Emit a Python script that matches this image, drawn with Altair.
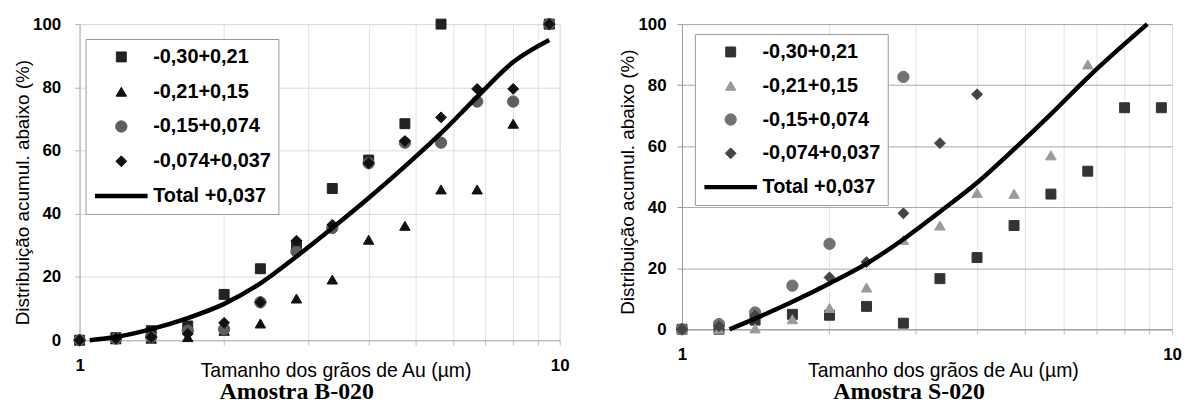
import altair as alt
import pandas as pd

# ---------------- data ----------------
sizes = [1.0, 1.19, 1.41, 1.68, 2.0, 2.38, 2.83, 3.36, 4.0, 4.76, 5.66, 6.73, 8.0, 9.51]
series = ["-0,30+0,21", "-0,21+0,15", "-0,15+0,074", "-0,074+0,037"]
total_label = "Total +0,037"

x_ticks = [1, 2, 3, 4, 5, 6, 7, 8, 9, 10]
y_ticks = [0, 20, 40, 60, 80, 100]
x_title = "Tamanho dos grãos de Au (µm)"
y_title = "Distribuição acumul. abaixo (%)"

# Amostra B-020
b_sq = [0, 0.8, 3, 4.5, 14.5, 22.6, 30, 48, 57, 68.5, 100, None, None, 100]
b_tr = [0, 0.3, 0.5, 1, 3, 5.3, 13.2, 19.2, 31.8, 36.2, 47.7, 47.7, 68.5, 100]
b_ci = [0, 0.5, 1, 3, 3.5, 12, 28, 35.5, 56, 62.5, 62.5, 75.5, 75.5, 100]
b_di = [0, 0.5, 1, 2, 5.5, 12, 31.5, 36.5, 56, 63, 70.5, 79.5, 79.5, 100]
b_tot_x = [1.05, 1.19, 1.41, 1.68, 2.0, 2.38, 2.83, 3.36, 4.0, 4.76, 5.66, 6.73, 8.0, 9.51]
b_tot_y = [0, 1, 3.5, 7, 11.5, 18, 26.5, 35.5, 45, 55, 65.5, 77, 88, 95]

# Amostra S-020
s_sq = [0, 0, 3, 4.9, 4.6, 7.5, 2, 16.6, 23.5, 34, 44.3, 51.8, 72.6, 72.6]
s_tr = [0, 0, 0.3, 3.3, 7, 13.7, 29.3, 34, 44.7, 44.4, 57, 86.8, None, None]
s_ci = [0, 1.7, 5.5, 14.3, 28, None, 82.7, None, None, None, None, None, None, None]
s_di = [0, 1, 4.5, None, 17, 22, 38, 61, 77, None, None, None, None, None]
s_tot_x = [1.25, 1.41, 1.68, 2.0, 2.38, 2.83, 3.36, 4.0, 4.76, 5.66, 6.73, 8.0, 8.9]
s_tot_y = [0, 3.5, 9, 15, 21.5, 29.5, 38.5, 48, 59, 70.5, 82.5, 93.5, 100]

# ---------------- styling ----------------
domain = series + [total_label]
shapes = ["square", "triangle-up", "circle", "diamond", "stroke"]
sym_sizes = [100, 110, 130, 120, 2800]
sym_widths = [1, 1, 1, 1, 4.5]
b_colors = ["#222222", "#111111", "#5e5e5e", "#111111", "#000000"]
s_colors = ["#333333", "#9a9a9a", "#727272", "#444444", "#000000"]
FONT = "Liberation Sans"


def points_df(cols):
    rows = []
    for name, vals in zip(series, cols):
        for s, v in zip(sizes, vals):
            if v is not None:
                rows.append({"size": s, "value": v, "series": name})
    return pd.DataFrame(rows)


def panel(cols, tot_x, tot_y, colors, width, height, hgrid, axcol,
          lx, ly, rowpad, label_pad, ytitle_shift, title_text, title_dx):
    legend = alt.Legend(
        title=None, orient="none", legendX=lx, legendY=ly,
        clipHeight=22, rowPadding=rowpad, padding=7,
        strokeColor="#999999", fillColor="white",
        labelFont=FONT, labelFontSize=20, labelFontWeight="bold",
        labelColor="black", labelOffset=3, labelLimit=400,
    )
    x = alt.X(
        "size:Q",
        scale=alt.Scale(type="log", domain=[1, 10], nice=False),
        axis=alt.Axis(
            values=x_ticks,
            labelExpr="(datum.value == 1 || datum.value == 10) ? datum.label : ''",
            grid=True, gridColor="#e2e2e2", gridWidth=1,
            tickColor="#bbbbbb", tickSize=5, domainColor=axcol,
            labelFont=FONT, labelFontSize=17, labelFontWeight="bold",
            labelColor="black", labelPadding=12, labelFlush=False,
            labelOverlap=False,
            title=x_title, titleFont=FONT, titleFontSize=19.5,
            titleFontWeight="normal", titleColor="black",
            titleBaseline="alphabetic", titleY=376 - (22 + height),
            titleX=width / 2 + 16, titleAlign="center",
        ),
    )
    y = alt.Y(
        "value:Q",
        scale=alt.Scale(domain=[0, 100], nice=False),
        axis=alt.Axis(
            values=y_ticks, grid=True, gridColor=hgrid, gridWidth=1,
            tickColor=axcol, tickSize=5, domainColor=axcol,
            labelFont=FONT, labelFontSize=17, labelFontWeight="bold",
            labelColor="black", labelPadding=label_pad,
            title=y_title, titleFont=FONT, titleFontSize=19,
            titleFontWeight="normal", titleColor="black", titlePadding=0,
            titleY=height / 2 + ytitle_shift,
        ),
    )
    pts = alt.Chart(points_df(cols)).mark_point(filled=False, opacity=1).encode(
        x=x,
        y=y,
        shape=alt.Shape("series:N", scale=alt.Scale(domain=domain, range=shapes), legend=legend),
        fill=alt.Fill("series:N", scale=alt.Scale(domain=domain, range=colors), legend=legend),
        stroke=alt.Stroke("series:N", scale=alt.Scale(domain=domain, range=colors), legend=legend),
        size=alt.Size("series:N", scale=alt.Scale(type="ordinal", domain=domain, range=sym_sizes), legend=legend),
        strokeWidth=alt.StrokeWidth("series:N", scale=alt.Scale(type="ordinal", domain=domain, range=sym_widths), legend=legend),
    )
    line = alt.Chart(pd.DataFrame({"size": tot_x, "value": tot_y})).mark_line(
        color="black", strokeWidth=4.5, interpolate="monotone"
    ).encode(x=x, y=y)
    return alt.layer(pts, line).properties(
        width=width, height=height,
        title=alt.TitleParams(
            title_text, orient="bottom", anchor="middle", font="Liberation Serif",
            fontSize=24, fontWeight="bold", color="black", dx=title_dx, offset=1,
        ),
    )


left = panel([b_sq, b_tr, b_ci, b_di], b_tot_x, b_tot_y, b_colors, 483, 318,
             "#dcdcdc", "#b0b0b0", 6, 15, 13, 14, 10, "Amostra B-020", -23)
right = panel([s_sq, s_tr, s_ci, s_di], s_tot_x, s_tot_y, s_colors, 493, 307,
              "#a8a8a8", "#999999", 13, 10, 12, 11, 5, "Amostra S-020", -18)

res = dict(x="independent", y="independent", fill="independent", stroke="independent",
           shape="independent", size="independent", strokeWidth="independent")

chart = (
    alt.hconcat(left, right, spacing=49)
    .resolve_scale(**res)
    .resolve_legend(fill="independent", stroke="independent", shape="independent",
                    size="independent", strokeWidth="independent")
    .properties(padding={"left": 5, "top": 5, "right": 0, "bottom": 5})
    .configure_view(stroke=None)
    .configure(background="white")
)

chart.save("out.html", embed_options={"renderer": "svg", "actions": False})
